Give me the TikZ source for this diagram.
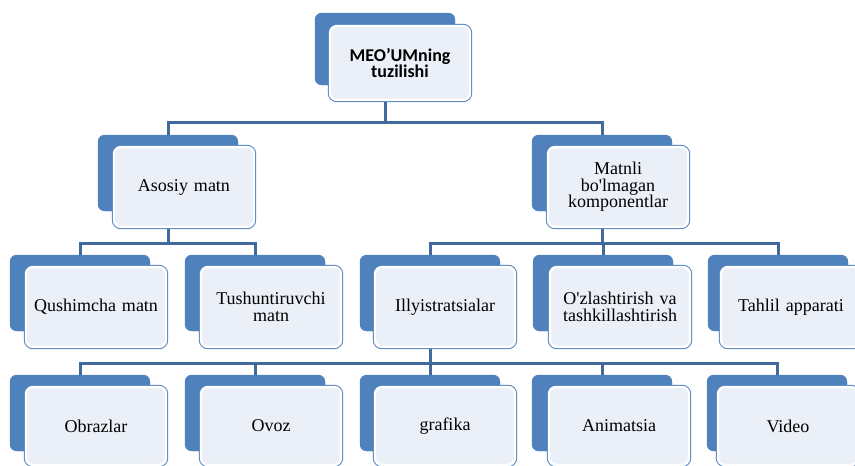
\documentclass[tikz,border=0pt]{standalone}
\usepackage{fontspec}
\setmainfont{Liberation Serif}
\newfontfamily\topfont{Carlito}
\definecolor{backblue}{HTML}{4F81BD}
\definecolor{linkblue}{HTML}{41699C}
\definecolor{frontfill}{HTML}{EBEFF7}
\begin{document}
\begin{tikzpicture}[x=1pt,y=-1pt,
  backbox/.style={fill=backblue, rounded corners=7pt, minimum width=140pt, minimum height=76pt, inner sep=0pt},
  frontbox/.style={fill=frontfill, draw=white, line width=2.4pt, rounded corners=7pt,
    preaction={draw=backblue, line width=4.4pt},
    minimum width=140pt, minimum height=78pt, inner sep=0pt, text width=134pt, align=center,
    font=\fontsize{18}{16.5}\selectfont},
  conn/.style={draw=linkblue, line width=3pt}]
\useasboundingbox (0,0) rectangle (855,466);
% back boxes
\node[backbox, minimum height=72pt] (b0) at (385,49) {};
\node[backbox] (b1) at (168,173) {};
\node[backbox] (b2) at (602,173) {};
\node[backbox] (b3) at (80,293) {};
\node[backbox] (b4) at (255,293) {};
\node[backbox] (b5) at (430,293) {};
\node[backbox] (b6) at (603,293) {};
\node[backbox] (b7) at (778,293) {};
\node[backbox] (b8) at (80,413) {};
\node[backbox] (b9) at (255,413) {};
\node[backbox] (b10) at (430,413) {};
\node[backbox] (b11) at (602,413) {};
\node[backbox] (b12) at (777,413) {};
% bus coordinates
\coordinate (bus0) at (0,122);
\coordinate (bus1) at (0,243);
\coordinate (bus2) at (0,243);
\coordinate (bus3) at (0,363);
% connectors
\draw[conn] (b0.center) -- (b0.center |- bus0) -| (b1.north);
\draw[conn] (b0.center |- bus0) -| (b2.north);
\draw[conn] (b1.center) -- (b1.center |- bus1) -| (b3.north);
\draw[conn] (b1.center |- bus1) -| (b4.north);
\draw[conn] (b2.center) -- (b2.center |- bus2) -| (b5.north);
\draw[conn] (b2.center |- bus2) -| (b6.north);
\draw[conn] (b2.center |- bus2) -| (b7.north);
\draw[conn] (b5.center) -- (b5.center |- bus3) -| (b8.north);
\draw[conn] (b5.center |- bus3) -| (b9.north);
\draw[conn] (b5.center |- bus3) -| (b10.north);
\draw[conn] (b5.center |- bus3) -| (b11.north);
\draw[conn] (b5.center |- bus3) -| (b12.north);
% redraw back boxes over connectors
\foreach \n in {b0,b1,b2,b3,b4,b5,b6,b7,b8,b9,b10,b11,b12}{
  \fill[backblue, rounded corners=7pt] (\n.south west) rectangle (\n.north east);
}
% front boxes
\node[frontbox, minimum height=74pt, font=\topfont\bfseries\fontsize{18}{16.5}\selectfont] (n0) at (400,63) {MEO’UMning\\tuzilishi};
\node[frontbox, minimum height=80pt] (n1) at (184,187) {Asosiy matn};
\node[frontbox, minimum height=80pt] (n2) at (618,187) {Matnli\\bo\textquotesingle lmagan\\komponentlar};
\node[frontbox, minimum height=80pt] (n3) at (96,307) {Qushimcha matn};
\node[frontbox, minimum height=80pt] (n4) at (271,307) {Tushuntiruvchi\\matn};
\node[frontbox, minimum height=80pt] (n5) at (445,307) {Illyistratsialar};
\node[frontbox, minimum height=80pt] (n6) at (620,307) {O\textquotesingle zlashtirish va\\tashkillashtirish};
\node[frontbox, minimum height=80pt] (n7) at (791,307) {Tahlil apparati};
\node[frontbox, minimum height=78pt] (n8) at (96,426) {Obrazlar};
\node[frontbox, minimum height=78pt] (n9) at (271,426) {Ovoz};
\node[frontbox, minimum height=78pt] (n10) at (445,426) {grafika};
\node[frontbox, minimum height=78pt] (n11) at (619,426) {Animatsia};
\node[frontbox, minimum height=78pt] (n12) at (788,426) {Video};
\end{tikzpicture}
\end{document}
